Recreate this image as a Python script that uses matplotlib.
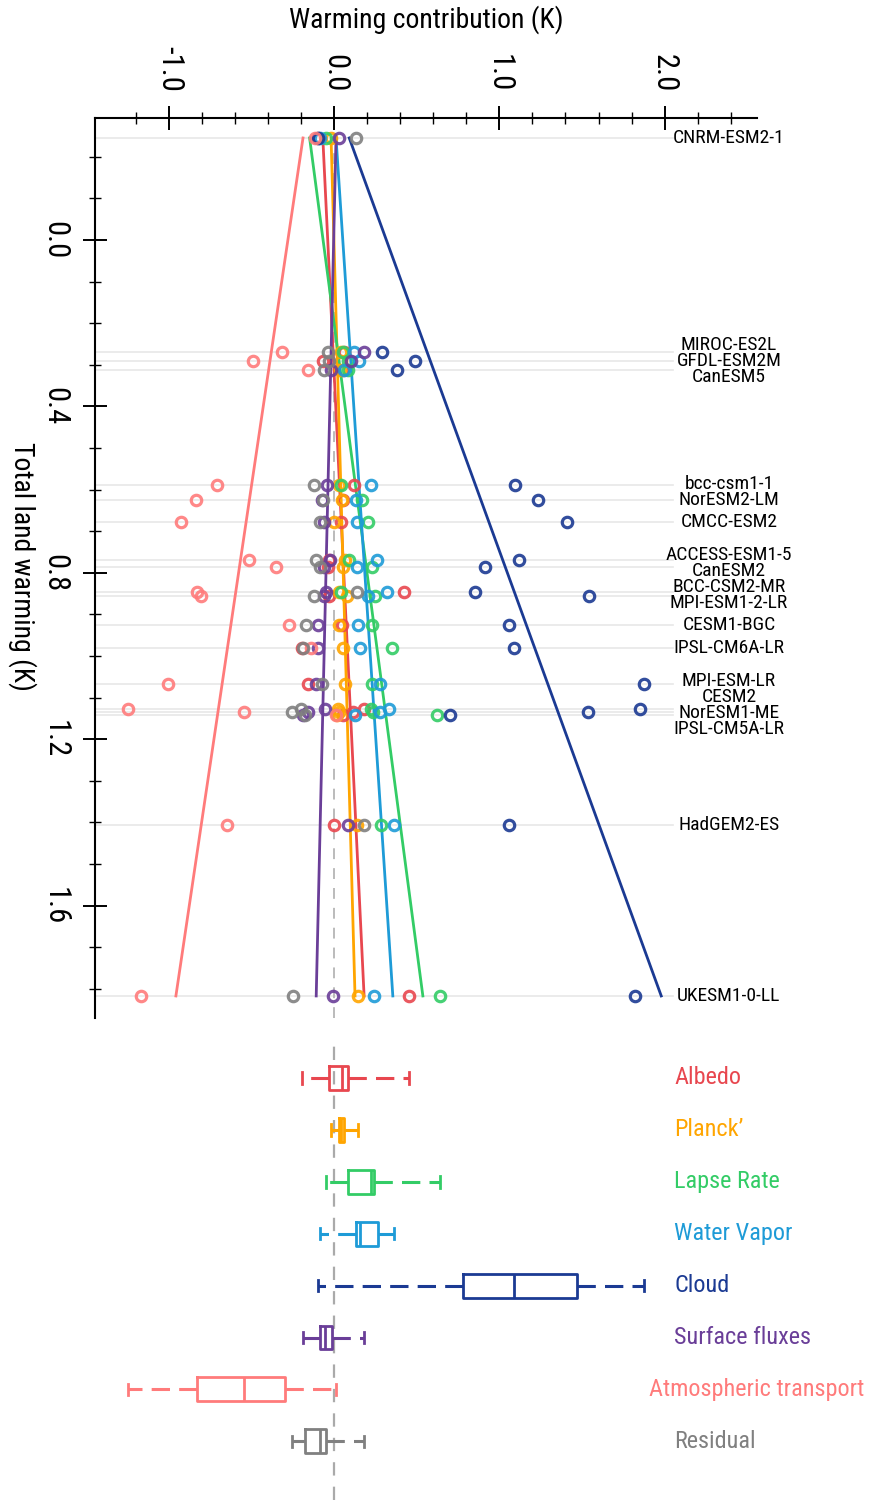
import numpy as np
import matplotlib
matplotlib.use('Agg')
import matplotlib.pyplot as plt
from matplotlib import font_manager

# Models and their total land warming (K)
models = ['CNRM-ESM2-1', 'MIROC-ES2L', 'GFDL-ESM2M', 'CanESM5', 'bcc-csm1-1',
          'NorESM2-LM', 'CMCC-ESM2', 'ACCESS-ESM1-5', 'CanESM2', 'BCC-CSM2-MR',
          'MPI-ESM1-2-LR', 'CESM1-BGC', 'IPSL-CM6A-LR', 'MPI-ESM-LR', 'CESM2',
          'NorESM1-ME', 'IPSL-CM5A-LR', 'HadGEM2-ES', 'UKESM1-0-LL']
total_warming = [-0.245, 0.269, 0.292, 0.313, 0.588, 0.624, 0.679, 0.769, 0.787, 0.847,
                 0.855, 0.925, 0.981, 1.067, 1.127, 1.135, 1.141, 1.405, 1.817]

# Warming contribution of each feedback term, per model (K)
albedo = [-0.10, 0.06, -0.07, 0.05, 0.12, 0.05, 0.04, -0.03, -0.036, 0.42,
          -0.03, 0.048, -0.195, -0.158, 0.18, 0.11, 0.05, 0.0, 0.45]
planck = [-0.02, 0.04, 0.04, 0.035, 0.03, 0.048, 0.0, 0.066, 0.05, 0.03,
          0.078, 0.027, 0.053, 0.065, 0.02, 0.029, 0.016, 0.14, 0.146]
lapse_rate = [-0.05, 0.05, 0.08, 0.08, 0.04, 0.167, 0.205, 0.09, 0.23, 0.04,
              0.244, 0.23, 0.35, 0.23, 0.22, 0.235, 0.62, 0.28, 0.64]
water_vapor = [-0.09, 0.12, 0.15, 0.06, 0.22, 0.128, 0.137, 0.256, 0.14, 0.317,
               0.205, 0.146, 0.153, 0.275, 0.33, 0.275, 0.125, 0.36, 0.24]
cloud = [-0.10, 0.29, 0.49, 0.38, 1.095, 1.234, 1.41, 1.12, 0.915, 0.854,
         1.54, 1.055, 1.09, 1.876, 1.85, 1.534, 0.70, 1.055, 1.82]
surface_fluxes = [0.03, 0.18, 0.10, -0.02, -0.044, -0.075, -0.06, -0.024, -0.06, -0.05,
                  -0.06, -0.10, -0.10, -0.113, -0.055, -0.162, -0.19, 0.08, -0.006]
atm_transport = [-0.12, -0.32, -0.49, -0.16, -0.71, -0.84, -0.93, -0.52, -0.354, -0.83,
                 -0.81, -0.277, -0.14, -1.01, -1.25, -0.545, 0.01, -0.65, -1.17]
residual = [0.13, -0.04, -0.03, -0.06, -0.125, -0.07, -0.087, -0.112, -0.087, 0.14,
            -0.125, -0.17, -0.19, -0.073, -0.2, -0.258, -0.18, 0.18, -0.25]

components = ['Albedo', "Planck\u2019", 'Lapse Rate', 'Water Vapor', 'Cloud',
              'Surface fluxes', 'Atmospheric transport', 'Residual']
colors = ['#E8474F', '#FFA500', '#33CC66', '#1E9BD7', '#1B3A93',
          '#6A3E98', '#FF7B7B', '#808080']

# trend lines: contribution at the lowest and highest total warming (no line for residual)
trend_start = [-0.07, -0.02, -0.15, 0.01, 0.09, 0.01, -0.19, None]
trend_end = [0.18, 0.125, 0.536, 0.354, 1.98, -0.11, -0.96, None]

values = [albedo, planck, lapse_rate, water_vapor, cloud, surface_fluxes, atm_transport, residual]

# pick a narrow sans font if there is one
available = {f.name for f in font_manager.fontManager.ttflist}
narrow = next((n for n in ['Liberation Sans Narrow', 'Arial Narrow', 'Nimbus Sans Narrow',
                           'Roboto Condensed'] if n in available), None)
if narrow:
    plt.rcParams['font.family'] = [narrow, 'DejaVu Sans']
    fs = 1.0
else:
    plt.rcParams['font.family'] = ['Liberation Sans', 'DejaVu Sans']
    fs = 0.84

W, H = 869, 1500
fig = plt.figure(figsize=(W / 100, H / 100), dpi=100)

# main scatter panel
ax = fig.add_axes([95 / W, 1 - 1018 / H, 662 / W, 900 / H])
ax.set_xlim(-1.45, 2.56)
ax.set_ylim(1.87, -0.293)
for side in ['right', 'bottom']:
    ax.spines[side].set_visible(False)
for side in ['left', 'top']:
    ax.spines[side].set_linewidth(1.5)

ax.xaxis.tick_top()
ax.set_xticks([-1, 0, 1, 2])
ax.set_xticklabels(['-1.0', '0.0', '1.0', '2.0'])
ax.set_xticks(np.arange(-1.2, 2.41, 0.2), minor=True)
ax.set_yticks([0, 0.4, 0.8, 1.2, 1.6])
ax.set_yticklabels(['0.0', '0.4', '0.8', '1.2', '1.6'])
ax.set_yticks(np.arange(-0.2, 1.81, 0.1), minor=True)
ax.tick_params(which='major', direction='inout', length=17, width=1.4,
               labelsize=22 * fs, pad=10)
ax.tick_params(which='minor', direction='inout', length=9, width=1.0)
ax.tick_params(axis='x', labelrotation=-90)
ax.tick_params(axis='y', labelrotation=-90)
for lab in ax.get_yticklabels():
    lab.set_va('center')

ax.axvline(0, color='#B5B5B5', lw=1.3, ls=(0, (6, 5)), zorder=1)
for y in total_warming:
    ax.plot([-1.45, 2.05], [y, y], color='#E8E8E8', lw=1.2, zorder=0.5)

y_lo, y_hi = min(total_warming), max(total_warming)
for i in range(len(components)):
    if trend_start[i] is not None:
        ax.plot([trend_start[i], trend_end[i]], [y_lo, y_hi], color=colors[i], lw=2, zorder=2)

for i in range(len(components)):
    ax.plot(values[i], total_warming, ls='none', marker='o', ms=7.5, mfc='none',
            mec=colors[i], mew=2.3, alpha=0.9, zorder=3)


# spread model labels a little so they don't collide
def spread(ys, gap):
    ys = list(ys)
    for _ in range(300):
        for k in range(1, len(ys)):
            d = ys[k] - ys[k - 1]
            if d < gap:
                ys[k - 1] -= (gap - d) / 2
                ys[k] += (gap - d) / 2
    return ys


label_y = spread(total_warming, 0.038)
for name, ly in zip(models, label_y):
    ax.text(2.39, ly, name, ha='center', va='center', fontsize=14 * fs, clip_on=False)

fig.text(426 / W, 1 - 20 / H, 'Warming contribution (K)', ha='center', va='center',
         fontsize=20 * fs)
fig.text(22 / W, 1 - 566 / H, 'Total land warming (K)', ha='center', va='center',
         rotation=-90, fontsize=20 * fs)

# box plots underneath
ax2 = fig.add_axes([95 / W, 0, 662 / W, 460 / H])
ax2.set_xlim(-1.45, 2.56)
ax2.set_ylim(9.13, 0.268)
ax2.axis('off')
ax2.axvline(0, color='#AAAAAA', lw=1.6, ls=(0, (6, 5)), zorder=0)
for i, (name, c) in enumerate(zip(components, colors)):
    ax2.boxplot(values[i], positions=[i + 1], orientation='horizontal', widths=0.46,
                whis=(0, 100), showfliers=False, capwidths=0.22,
                boxprops=dict(color=c, lw=2),
                medianprops=dict(color=c, lw=2),
                whiskerprops=dict(color=c, lw=2.2, ls=(0, (6, 3))),
                capprops=dict(color=c, lw=2))
    # the long label would run off the page, so it is pinned to the right edge instead
    if len(name) < 20:
        ax2.text(2.06, i + 1, name, color=c, ha='left', va='center', fontsize=17.5 * fs,
                 clip_on=False)
    else:
        ax2.text(3.21, i + 1, name, color=c, ha='right', va='center', fontsize=17.5 * fs,
                 clip_on=False)

plt.savefig('out.png', dpi=100)
